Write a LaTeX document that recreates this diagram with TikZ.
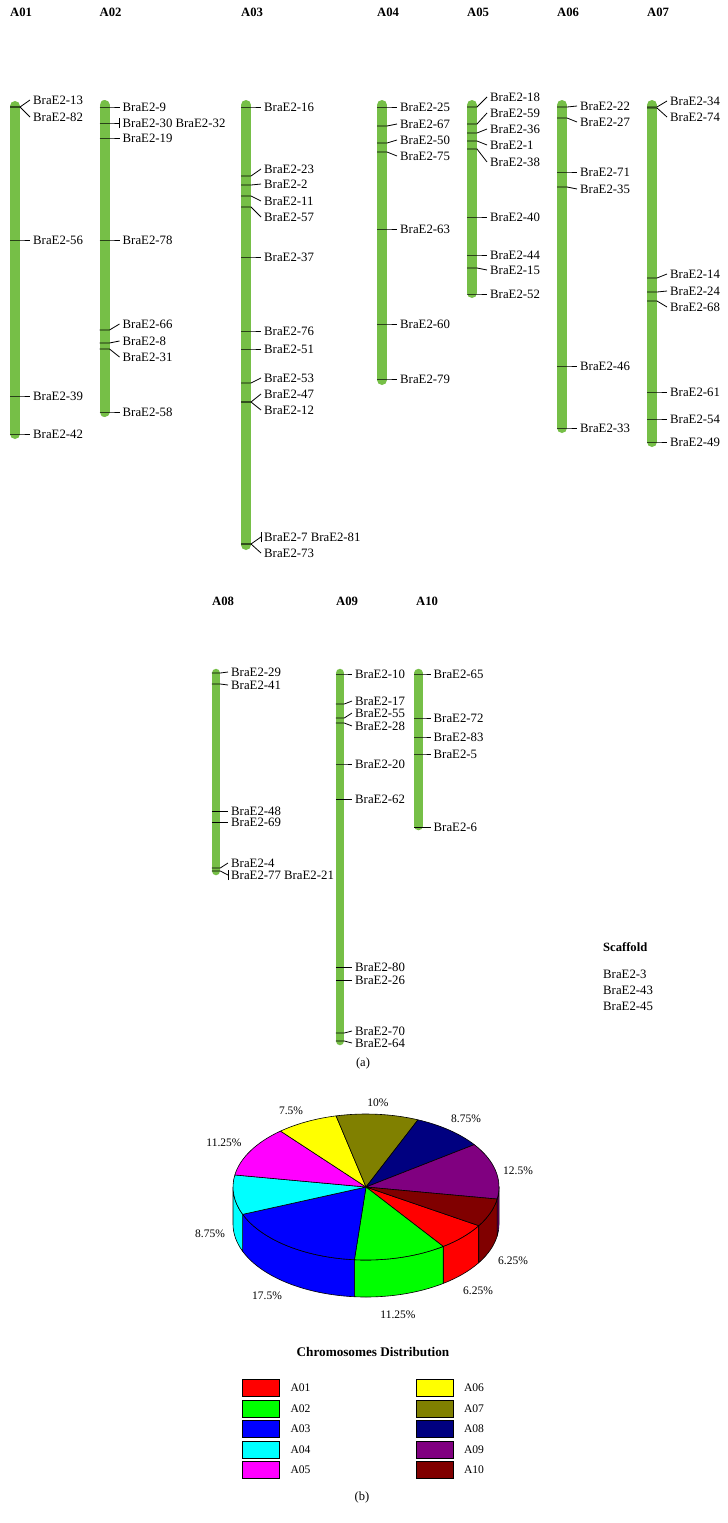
\documentclass[tikz,border=0pt]{standalone}
\usepackage{fontspec}
\setmainfont{Liberation Serif}
\usetikzlibrary{positioning, calc}
\definecolor{chromgreen}{HTML}{76BF47}
\definecolor{pieA01}{HTML}{FF0000}
\definecolor{pieA02}{HTML}{00FF00}
\definecolor{pieA03}{HTML}{0000FF}
\definecolor{pieA04}{HTML}{00FFFF}
\definecolor{pieA05}{HTML}{FF00FF}
\definecolor{pieA06}{HTML}{FFFF00}
\definecolor{pieA07}{HTML}{808000}
\definecolor{pieA08}{HTML}{000080}
\definecolor{pieA09}{HTML}{800080}
\definecolor{pieA10}{HTML}{800000}
\tikzset{
  chrom/.style={line width=10pt, line cap=round, chromgreen},
  chromthin/.style={line width=8.5pt, line cap=round, chromgreen},
  tick/.style={line width=0.8pt, black},
  gene/.style={anchor=west, inner xsep=3pt, inner ysep=0pt,
    font=\fontsize{12.8}{14}\selectfont},
  chrname/.style={anchor=west, inner sep=0pt,
    font=\fontsize{12.7}{14}\selectfont\bfseries},
  pct/.style={inner sep=0pt, font=\fontsize{11.5}{13}\selectfont},
  slice/.style={draw=black, line width=0.6pt, line join=round},
  key/.style={draw=black, line width=0.6pt, minimum width=37pt,
    minimum height=17pt, inner sep=0pt},
  keylabel/.style={anchor=west, inner sep=0pt, font=\fontsize{11.6}{13}\selectfont},
  caption/.style={inner sep=0pt, font=\fontsize{12.5}{14}\selectfont},
}

\begin{document}
\begin{tikzpicture}[x=1pt, y=-1pt]
  \useasboundingbox[fill=white] (0,0) rectangle (728,1523);

  % (a) chromosome map, first row
  \node[chrname] (A01) at (10,12) {A01};
  \draw[chrom] (15,106) -- (15,434);
  \foreach \ty/\ly/\txt [count=\i] in {107/100/13, 107/117/82, 240/240/56,
      396/396/39, 434/434/42}{
    \node[gene] (a01g\i) at (30,\ly) {BraE2-\txt};
    \coordinate (a01t\i) at (10,\ty);
    \draw[tick] (a01t\i) -- ++(10,0) -- (a01g\i.west);
  }

  \node[chrname] (A02) at (99.5,12) {A02};
  \draw[chrom] (104.5,105) -- (104.5,412);
  \foreach \ty/\ly/\txt [count=\i] in {107/107/9, 123/123/30 BraE2-32,
      138/138/19, 240/240/78, 330/324/66, 343/341/8, 349/357/31, 412/412/58}{
    \node[gene] (a02g\i) at (119.5,\ly) {BraE2-\txt};
    \coordinate (a02t\i) at (99.5,\ty);
    \draw[tick] (a02t\i) -- ++(10,0) -- (a02g\i.west);
  }
  \draw[tick] ([yshift=-5pt]a02g2.west) -- ([yshift=5pt]a02g2.west);

  \node[chrname] (A03) at (241,12) {A03};
  \draw[chrom] (246,105) -- (246,545);
  \foreach \ty/\ly/\txt [count=\i] in {107/107/16, 176/169/23, 185/184/2,
      196/201/11, 207/217/57, 257/257/37, 331/331/76, 349/349/51, 383/378/53,
      402/394/47, 402/410/12, 544/537/7 BraE2-81, 544/553/73}{
    \node[gene] (a03g\i) at (261,\ly) {BraE2-\txt};
    \coordinate (a03t\i) at (241,\ty);
    \draw[tick] (a03t\i) -- ++(10,0) -- (a03g\i.west);
  }
  \draw[tick] ([yshift=-5pt]a03g12.west) -- ([yshift=5pt]a03g12.west);

  \node[chrname] (A04) at (377,12) {A04};
  \draw[chrom] (382,105) -- (382,380);
  \foreach \ty/\ly/\txt [count=\i] in {107/107/25, 126/124/67, 143/140/50,
      152/156/75, 229/229/63, 324/324/60, 379/379/79}{
    \node[gene] (a04g\i) at (397,\ly) {BraE2-\txt};
    \coordinate (a04t\i) at (377,\ty);
    \draw[tick] (a04t\i) -- ++(10,0) -- (a04g\i.west);
  }

  \node[chrname] (A05) at (467,12) {A05};
  \draw[chrom] (472,105) -- (472,293);
  \foreach \ty/\ly/\txt [count=\i] in {107/97/18, 124/113/59, 133/129/36,
      141/145/1, 149/162/38, 217/217/40, 255/255/44, 268/270/15, 294/294/52}{
    \node[gene] (a05g\i) at (487,\ly) {BraE2-\txt};
    \coordinate (a05t\i) at (467,\ty);
    \draw[tick] (a05t\i) -- ++(10,0) -- (a05g\i.west);
  }

  \node[chrname] (A06) at (557,12) {A06};
  \draw[chrom] (562,105) -- (562,428);
  \foreach \ty/\ly/\txt [count=\i] in {107/106/22, 118/122/27, 172/172/71,
      187/189/35, 366/366/46, 428/428/33}{
    \node[gene] (a06g\i) at (577,\ly) {BraE2-\txt};
    \coordinate (a06t\i) at (557,\ty);
    \draw[tick] (a06t\i) -- ++(10,0) -- (a06g\i.west);
  }

  \node[chrname] (A07) at (647,12) {A07};
  \draw[chrom] (652,105) -- (652,442);
  \foreach \ty/\ly/\txt [count=\i] in {107/101/34, 108/117/74, 278/274/14,
      292/291/24, 301/307/68, 392/392/61, 419/419/54, 442/442/49}{
    \node[gene] (a07g\i) at (667,\ly) {BraE2-\txt};
    \coordinate (a07t\i) at (647,\ty);
    \draw[tick] (a07t\i) -- ++(10,0) -- (a07g\i.west);
  }

  % second row
  \node[chrname] (A08) at (212,601) {A08};
  \draw[chromthin] (216,673) -- (216,871);
  \foreach \ty/\ly/\txt [count=\i] in {673/672/29, 684/685/41, 811/811/48,
      822/822/69, 868/863/4, 871/875/77 BraE2-21}{
    \node[gene] (a08g\i) at (228,\ly) {BraE2-\txt};
    \coordinate (a08t\i) at (211.75,\ty);
    \draw[tick] (a08t\i) -- ++(8.5,0) -- (a08g\i.west);
  }
  \draw[tick] ([yshift=-5pt]a08g6.west) -- ([yshift=5pt]a08g6.west);

  \node[chrname] (A09) at (336,601) {A09};
  \draw[chromthin] (340,673) -- (340,1041);
  \foreach \ty/\ly/\txt [count=\i] in {674/674/10, 704/701/17, 718/713/55,
      723/726/28, 764/764/20, 799/799/62, 967/967/80, 980/980/26,
      1033/1031/70, 1041/1043/64}{
    \node[gene] (a09g\i) at (352,\ly) {BraE2-\txt};
    \coordinate (a09t\i) at (335.75,\ty);
    \draw[tick] (a09t\i) -- ++(8.5,0) -- (a09g\i.west);
  }

  \node[chrname] (A10) at (416,601) {A10};
  \draw[chromthin] (418.5,673) -- (418.5,826);
  \foreach \ty/\ly/\txt [count=\i] in {674/674/65, 718/718/72, 737/737/83,
      754/754/5, 827/827/6}{
    \node[gene] (a10g\i) at (430.5,\ly) {BraE2-\txt};
    \coordinate (a10t\i) at (414.25,\ty);
    \draw[tick] (a10t\i) -- ++(8.5,0) -- (a10g\i.west);
  }

  % unplaced genes
  \node[chrname, font=\fontsize{12.6}{14}\selectfont\bfseries] (scaf) at (603,947) {Scaffold};
  \node[gene, inner xsep=0pt] (sc1) at (603,974) {BraE2-3};
  \node[gene, inner xsep=0pt] (sc2) at (603,990) {BraE2-43};
  \node[gene, inner xsep=0pt] (sc3) at (603,1006) {BraE2-45};

  \node[caption] (capa) at (363,1063) {(a)};

  % (b) pie chart
  \begin{scope}[shift={(366,1187)}, y=1pt]
    \foreach \s/\e/\c in {-32/-54.5/pieA01, -54.5/-95/pieA02, -95/-158/pieA03,
        -158/-180/pieA04, 0/-9.5/pieA09, -9.5/-32/pieA10}
      \filldraw[slice, fill=\c] (\s:133 and 73)
        arc[start angle=\s, end angle=\e, x radius=133, y radius=73]
        -- ++(0,-37)
        arc[start angle=\e, end angle=\s, x radius=133, y radius=73] -- cycle;
    \foreach \s/\e/\c in {-32/-54.5/pieA01, -54.5/-95/pieA02, -95/-158/pieA03,
        -158/-189.5/pieA04, -189.5/-230/pieA05, -230/-257/pieA06,
        -257/-293/pieA07, -293/-324.5/pieA08, -324.5/-369.5/pieA09,
        -369.5/-392/pieA10}
      \filldraw[slice, fill=\c] (0,0) -- (\s:133 and 73)
        arc[start angle=\s, end angle=\e, x radius=133, y radius=73] -- cycle;
  \end{scope}

  \node[pct] (p07) at (378,1103) {10\%};
  \node[pct] (p08) at (466,1119) {8.75\%};
  \node[pct] (p09) at (518,1171) {12.5\%};
  \node[pct] (p10) at (513,1261) {6.25\%};
  \node[pct] (p01) at (478,1291) {6.25\%};
  \node[pct] (p02) at (398,1315) {11.25\%};
  \node[pct] (p03) at (267,1296) {17.5\%};
  \node[pct] (p04) at (210,1234) {8.75\%};
  \node[pct] (p05) at (224,1143) {11.25\%};
  \node[pct] (p06) at (291,1111) {7.5\%};

  \node[inner sep=0pt, font=\fontsize{13.2}{15}\selectfont\bfseries] (title)
    at (373,1352) {Chromosomes Distribution};

  \foreach \n/\y in {01/1388, 02/1408.5, 03/1429, 04/1449.5, 05/1470}{
    \node[key, fill=pieA\n] (k\n) at (260.5,\y) {};
    \node[keylabel, right=11pt of k\n] (l\n) {A\n};
  }
  \foreach \n/\y in {06/1388, 07/1408.5, 08/1429, 09/1449.5, 10/1470}{
    \node[key, fill=pieA\n] (k\n) at (435,\y) {};
    \node[keylabel, right=10pt of k\n] (l\n) {A\n};
  }

  \node[caption] (capb) at (362,1497) {(b)};
\end{tikzpicture}
\end{document}
